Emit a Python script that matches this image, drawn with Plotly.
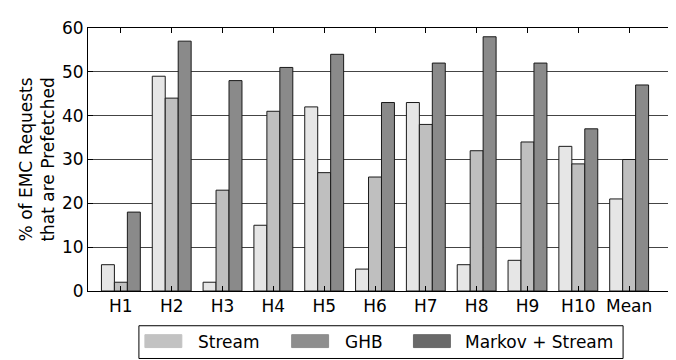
import plotly.graph_objects as go

categories = ["H1", "H2", "H3", "H4", "H5", "H6", "H7", "H8", "H9", "H10", "Mean"]
stream = [6, 49, 2, 15, 42, 5, 43, 6, 7, 33, 21]
ghb = [2, 44, 23, 41, 27, 26, 38, 32, 34, 29, 30]
markov_stream = [18, 57, 48, 51, 54, 43, 52, 58, 52, 37, 47]
series_names = ["Stream", "GHB", "Markov + Stream"]

bar_colors = ["#e6e6e6", "#bfbfbf", "#8a8a8a"]
legend_colors = ["#c2c2c2", "#8e8e8e", "#696969"]
font = "DejaVu Sans"

x = list(range(len(categories)))

fig = go.Figure()
for name, vals, col in zip(series_names, [stream, ghb, markov_stream], bar_colors):
    fig.add_trace(go.Bar(name=name, x=x, y=vals, marker=dict(color=col, line=dict(color="#1a1a1a", width=1)),
                         showlegend=False))

# plot area in pixels: left 80, right 666, top 18, bottom 283
L, R, T, B = 80, 666, 18, 283


def px(xp):
    return (xp - L) / (R - L)


def py(yp):
    return (B - yp) / (B - T)


shapes = [dict(type="rect", xref="paper", yref="paper", x0=px(131), x1=px(616), y0=py(318), y1=py(351),
               line=dict(color="black", width=1), fillcolor="white")]
annotations = []
sw_x = [137, 284, 406]
txt_x = [188, 335, 456]
for name, col, sx, tx in zip(series_names, legend_colors, sw_x, txt_x):
    shapes.append(dict(type="rect", xref="paper", yref="paper", x0=px(sx), x1=px(sx + 37), y0=py(327), y1=py(340),
                       line=dict(color=col, width=1), fillcolor=col))
    annotations.append(dict(text=name, xref="paper", yref="paper", x=px(tx), y=py(334), xanchor="left",
                            yanchor="middle", showarrow=False, font=dict(family=font, size=17, color="black")))

# two-line y axis title
annotations.append(dict(text="% of EMC Requests<br>that are Prefetched", xref="paper", yref="paper",
                        x=px(28), y=0.5, textangle=-90, showarrow=False, xanchor="center", yanchor="middle",
                        font=dict(family=font, size=17, color="black")))

fig.update_layout(
    width=676, height=360,
    margin=dict(l=L, r=676 - R, t=T, b=360 - B),
    barmode="group", bargap=0.235, bargroupgap=0,
    plot_bgcolor="white", paper_bgcolor="white",
    font=dict(family=font, size=17, color="black"),
    shapes=shapes, annotations=annotations,
    showlegend=False,
)
fig.update_xaxes(range=[-0.647, 10.863], tickvals=x, ticktext=categories, showgrid=False,
                 showline=True, linecolor="black", linewidth=1, mirror="ticks",
                 ticks="inside", ticklen=5, tickcolor="black", tickfont=dict(size=17), zeroline=False)
fig.update_yaxes(range=[0, 60], dtick=10, showgrid=True, gridcolor="#444444", gridwidth=1,
                 showline=True, linecolor="black", linewidth=1, mirror="ticks",
                 ticks="inside", ticklen=5, tickcolor="black", tickfont=dict(size=17), zeroline=False)

fig.write_html("out.html")
